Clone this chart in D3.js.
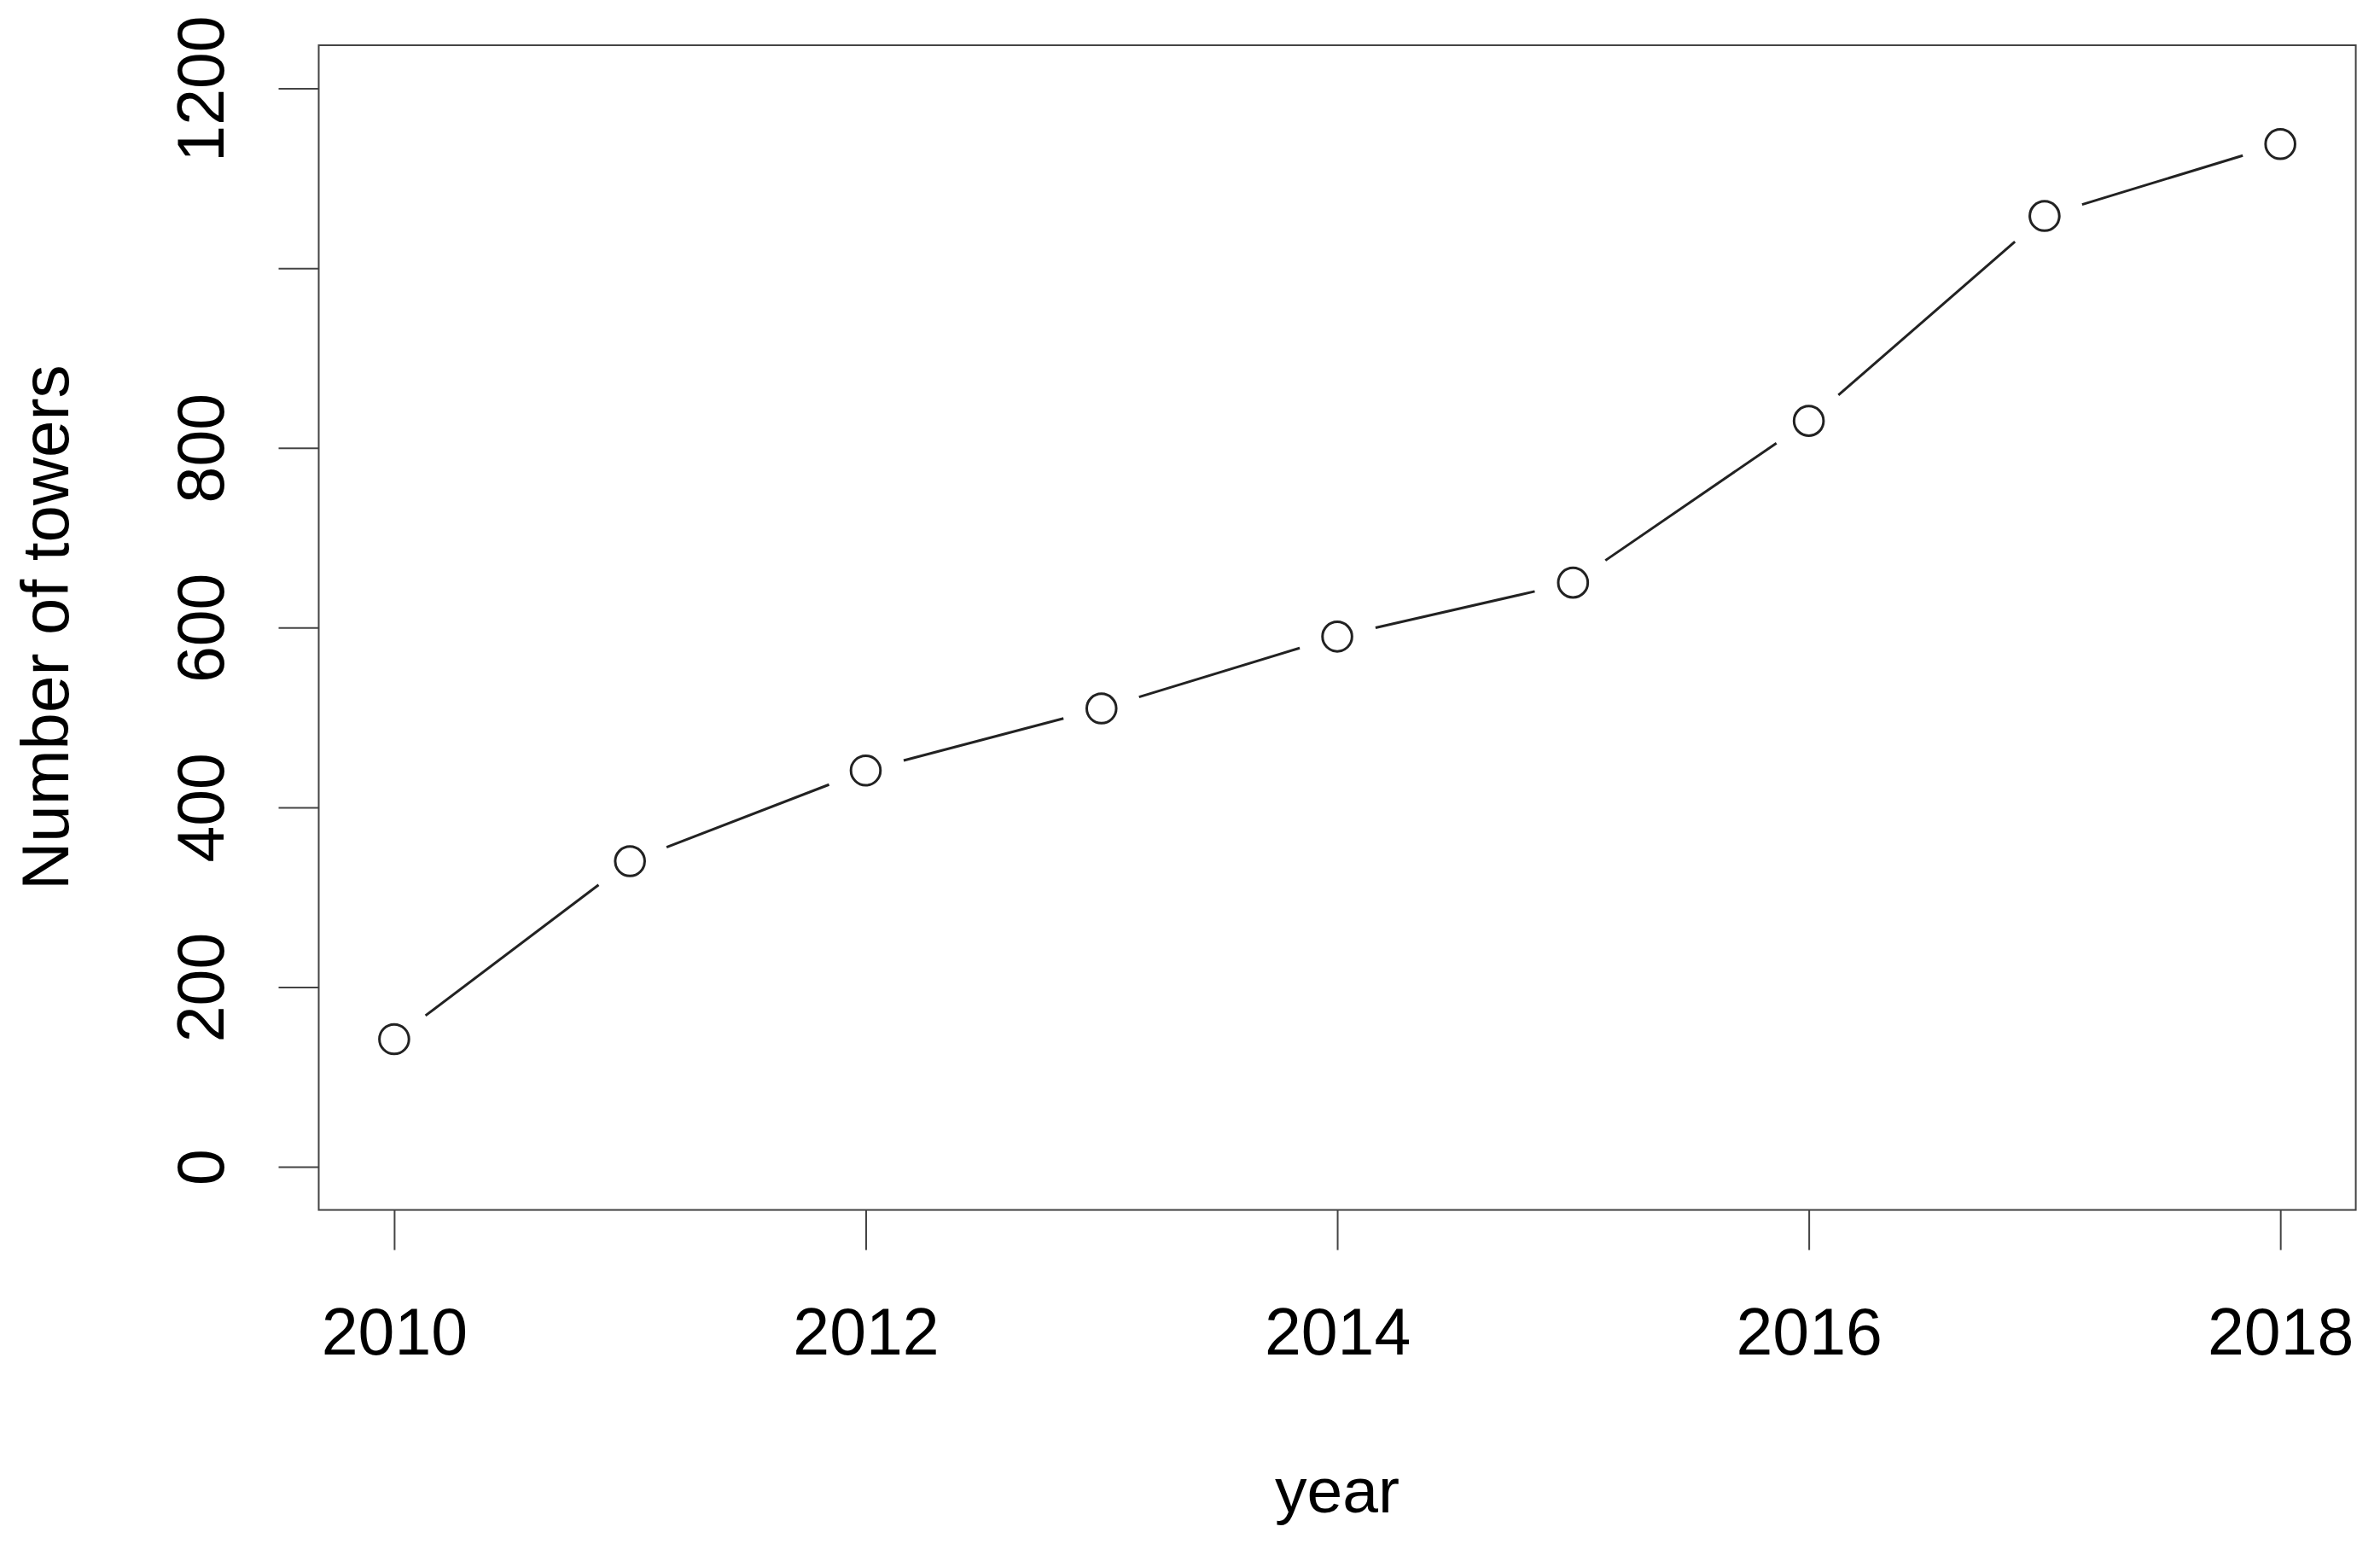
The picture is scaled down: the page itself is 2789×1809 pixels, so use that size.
<!DOCTYPE html>
<html>
<head>
<meta charset="utf-8">
<script src="https://cdn.jsdelivr.net/npm/d3@7"></script>
<style>
  html, body { margin: 0; padding: 0; background: #fff; }
  svg text { font-family: "Liberation Sans", Arial, Helvetica, sans-serif; fill: #000; }
</style>
</head>
<body>
<script>
// ---- data ----
const years = [2010, 2011, 2012, 2013, 2014, 2015, 2016, 2017, 2018];
const towers = [142, 340, 441, 510, 590, 650, 830, 1058, 1138];
const xTicks = [2010, 2012, 2014, 2016, 2018];
const yTicks = [0, 200, 400, 600, 800, 1000, 1200];
const yTickLabels = ["0", "200", "400", "600", "800", "", "1200"];
const xTitle = "year";
const yTitle = "Number of towers";

// ---- layout ----
const W = 2789, H = 1809;
const box = { left: 373.5, right: 2760.6, top: 53, bottom: 1417.6 };
const tickFont = 77;
const titleFont = 75;
const yTitleFont = 78;

const svg = d3.select("body").append("svg")
  .attr("width", W).attr("height", H)
  .attr("viewBox", `0 0 ${W} ${H}`);

svg.append("rect").attr("width", W).attr("height", H).attr("fill", "#fff");

// R-style 4% padding on ranges
const xPad = (2018 - 2010) * 0.04;
const yPad = (1200 - 0) * 0.04;
const x = d3.scaleLinear().domain([2010 - xPad, 2018 + xPad]).range([box.left, box.right]);
const y = d3.scaleLinear().domain([0 - yPad, 1200 + yPad]).range([box.bottom, box.top]);

const tickLen = 47;
const axisStroke = "#444";

// X axis
const gx = svg.append("g")
  .attr("transform", `translate(0,${box.bottom})`)
  .call(d3.axisBottom(x).tickValues(xTicks).tickFormat(d3.format("d")).tickSize(tickLen).tickSizeOuter(0));
gx.select(".domain").remove();
gx.selectAll("line").attr("stroke", axisStroke).attr("stroke-width", 2);
gx.selectAll("text")
  .attr("y", 1587 - box.bottom).attr("dy", 0)
  .style("font-size", tickFont + "px")
  .attr("fill", "#000");

// Y axis
const gy = svg.append("g")
  .attr("transform", `translate(${box.left},0)`)
  .call(d3.axisLeft(y).tickValues(yTicks).tickFormat((d, i) => yTickLabels[i]).tickSize(tickLen).tickSizeOuter(0));
gy.select(".domain").remove();
gy.selectAll("line").attr("stroke", axisStroke).attr("stroke-width", 2);
gy.selectAll("text")
  .attr("x", 0).attr("y", 0).attr("dy", 0)
  .attr("text-anchor", "middle")
  .attr("transform", `translate(${262 - box.left},0) rotate(-90)`)
  .style("font-size", tickFont + "px")
  .attr("fill", "#000");

// Box
svg.append("rect")
  .attr("x", box.left).attr("y", box.top)
  .attr("width", box.right - box.left).attr("height", box.bottom - box.top)
  .attr("fill", "none").attr("stroke", axisStroke).attr("stroke-width", 2);

// Titles
svg.append("text")
  .attr("x", (box.left + box.right) / 2).attr("y", 1772)
  .attr("text-anchor", "middle")
  .style("font-size", titleFont + "px")
  .text(xTitle);

svg.append("text")
  .attr("transform", `translate(80,${(box.top + box.bottom) / 2}) rotate(-90)`)
  .attr("text-anchor", "middle")
  .style("font-size", yTitleFont + "px")
  .text(yTitle);

// Line segments with gaps (type = "b")
const gap = 46;
const pts = years.map((yr, i) => [x(yr), y(towers[i])]);
const segs = [];
for (let i = 0; i < pts.length - 1; i++) {
  const [x1, y1] = pts[i], [x2, y2] = pts[i + 1];
  const dx = x2 - x1, dy = y2 - y1, len = Math.hypot(dx, dy);
  if (len > 2 * gap) {
    const ux = dx / len, uy = dy / len;
    segs.push([x1 + ux * gap, y1 + uy * gap, x2 - ux * gap, y2 - uy * gap]);
  }
}
svg.append("g").selectAll("line").data(segs).join("line")
  .attr("x1", d => d[0]).attr("y1", d => d[1])
  .attr("x2", d => d[2]).attr("y2", d => d[3])
  .attr("stroke", "#222").attr("stroke-width", 3);

// Points
svg.append("g").selectAll("circle").data(years).join("circle")
  .attr("cx", d => x(d))
  .attr("cy", (d, i) => y(towers[i]))
  .attr("r", 17.3)
  .attr("fill", "none").attr("stroke", "#222").attr("stroke-width", 3);
</script>
</body>
</html>
